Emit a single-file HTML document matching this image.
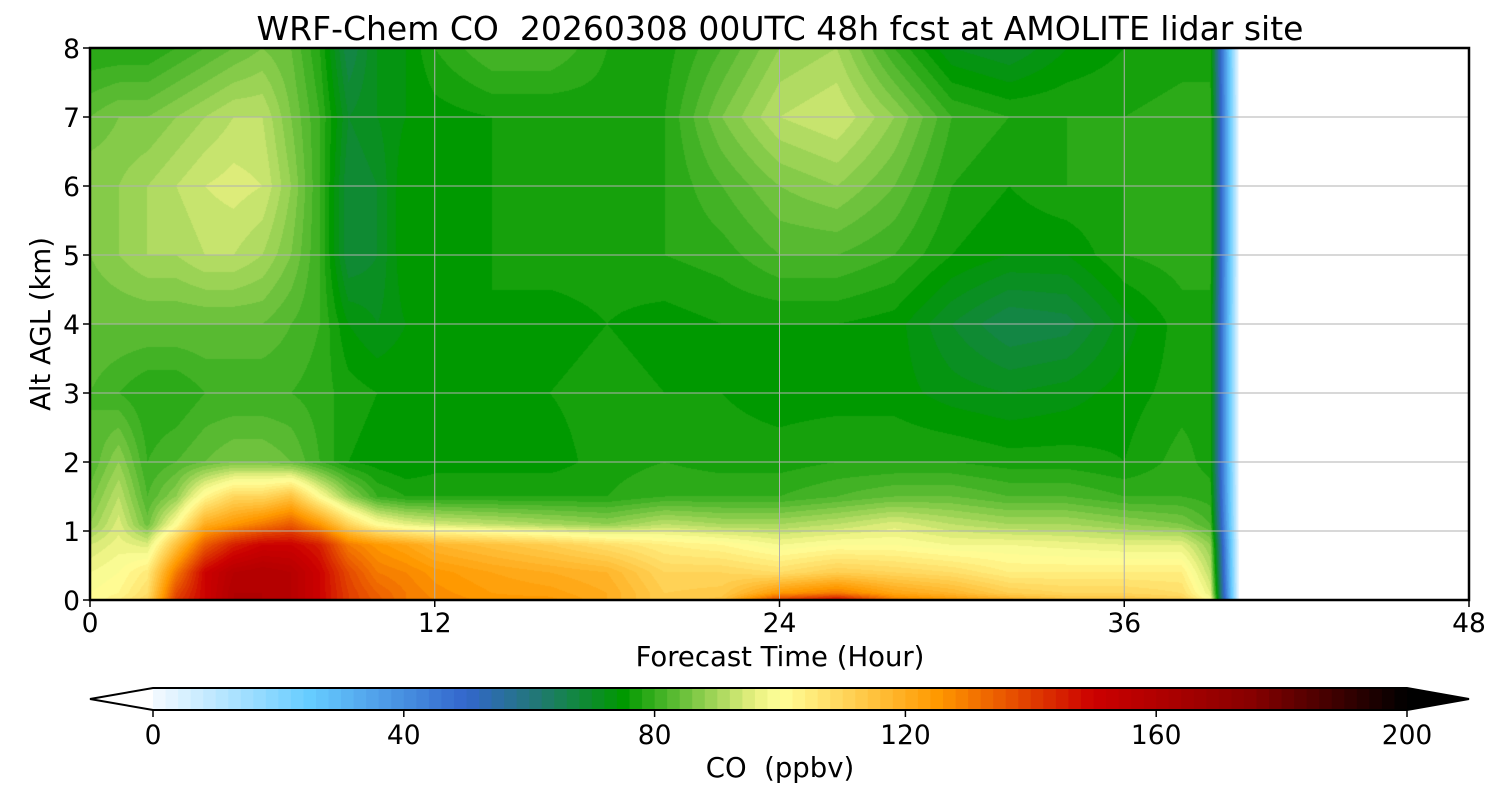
<!DOCTYPE html>
<html><head><meta charset="utf-8">
<style>
body{margin:0;background:#fff;width:1500px;height:800px;overflow:hidden;font-family:"DejaVu Sans","Liberation Sans",sans-serif}
#wrap{position:relative;width:1500px;height:800px}
canvas{position:absolute;left:90px;top:48px}
svg{position:absolute;left:0;top:0}
text{white-space:pre}
</style></head><body>
<div id="wrap">
<canvas id="cv" width="1379" height="552"></canvas>
<svg id="sv" width="1500" height="800"></svg>
</div>
<script>
const times=[0,1,2,3,4,5,6,7,8,9,10,11,12,14,16,18,20,22,24,26,28,30,32,34,36,38,39,40];
const alts=[0,0.1,0.4,0.8,1.1,1.5,2,3,4,5,6,7,8];
// each row: CO values (ppbv) at alts for one time
const coValues=[
[100,100,98,94,88,85,82,82,84,86,88,84,78],
[104,102,100,97,95,92,88,80,84,88,88,86,78],
[110,108,105,95,85,82,80,78,84,90,90,86,78],
[140,138,130,115,100,88,82,78,84,90,92,88,80],
[150,150,150,135,120,102,84,80,84,92,94,90,82],
[160,160,158,145,125,110,86,80,84,92,95,92,84],
[160,160,160,150,130,110,86,80,84,90,94,92,86],
[158,158,158,150,135,115,84,80,82,86,88,86,84],
[150,150,150,145,125,100,80,79,80,80,80,80,78],
[140,140,138,130,110,88,76,77,74,68,68,70,66],
[135,134,130,125,100,80,75,76,72,70,70,72,72],
[130,130,128,122,96,78,74,76,74,76,76,74,74],
[128,127,125,118,94,78,75,76,76,75,76,75,78],
[125,124,122,115,92,78,75,75,76,76,76,76,82],
[125,123,120,112,90,78,75,76,75,77,76,76,82],
[120,120,118,108,88,78,77,77,76,77,78,77,78],
[112,112,110,104,92,80,78,76,75,78,78,78,77],
[115,113,110,102,90,80,77,76,76,79,82,86,82],
[140,125,108,98,90,80,77,75,76,82,86,92,88],
[150,130,112,100,92,82,78,75,76,82,88,94,90],
[130,122,110,100,95,84,78,75,75,80,84,88,80],
[125,118,108,98,92,84,78,73,70,76,78,80,72],
[120,112,104,98,90,82,77,72,66,74,76,78,70],
[115,110,104,97,90,82,77,73,67,74,78,78,74],
[115,110,104,96,88,80,76,75,73,78,78,78,76],
[112,108,104,96,86,80,79,77,77,79,79,79,77],
[100,96,92,88,82,79,77,77,77,79,79,79,77],
[0,0,0,0,0,0,0,0,0,0,0,0,0]];
const cbTicks=[0,40,80,120,160,200];
const xTicks=[0,12,24,36,48];
const yTicks=[0,1,2,3,4,5,6,7,8];

const anchors=[[0,[245,250,255]],[25,[102,204,255]],[50,[51,102,204]],[61,[34,119,119]],[75,[0,153,0]],[96,[232,240,128]],[100,[255,255,153]],[125,[255,153,0]],[150,[204,0,0]],[175,[136,0,0]],[200,[0,0,0]]];
function cmap(v){
  v=Math.max(0,Math.min(200,v));
  for(let i=0;i<anchors.length-1;i++){const a=anchors[i],b=anchors[i+1];
    if(v<=b[0]){const f=(v-a[0])/(b[0]-a[0]);return a[1].map((c,k)=>Math.round(c+(b[1][k]-c)*f));}}
  return [0,0,0];
}
function lvl(v){return Math.floor(v/2)*2+1;}
const X0=90,X1=1469,Y0=600,Y1=48;
const xs=t=>X0+(t/48)*(X1-X0), ys=a=>Y0-(a/8)*(Y0-Y1);
const cv=document.getElementById('cv'),ctx=cv.getContext('2d');
const W=cv.width,H=cv.height,img=ctx.createImageData(W,H);
const tMax=times[times.length-1];
for(let px=0;px<W;px++){
  const t=(px+0.5)/W*48; if(t>tMax) {continue;}
  let i=0; while(i<times.length-2&&t>times[i+1]) i++;
  const ft=(t-times[i])/(times[i+1]-times[i]);
  for(let py=0;py<H;py++){
    const a=(H-py-0.5)/H*8;
    let j=0; while(j<alts.length-2&&a>alts[j+1]) j++;
    const fa=(a-alts[j])/(alts[j+1]-alts[j]);
    const v0=coValues[i][j]*(1-ft)+coValues[i+1][j]*ft;
    const v1=coValues[i][j+1]*(1-ft)+coValues[i+1][j+1]*ft;
    const v=v0*(1-fa)+v1*fa;
    if(v<1) continue;
    const c=cmap(lvl(v)); const o=(py*W+px)*4;
    img.data[o]=c[0];img.data[o+1]=c[1];img.data[o+2]=c[2];img.data[o+3]=255;
  }
}
ctx.putImageData(img,0,0);
const NS='http://www.w3.org/2000/svg',sv=document.getElementById('sv');
function mk(tag,at,txt){const e=document.createElementNS(NS,tag);for(const k in at)e.setAttribute(k,at[k]);if(txt!==undefined)e.textContent=txt;sv.appendChild(e);return e;}
xTicks.forEach(t=>{
  const l=mk('line',{x1:xs(t),x2:xs(t),y1:Y1,y2:Y0,stroke:'#b0b0b0','stroke-width':1});
  
  
  const tk=mk('line',{x1:xs(t),x2:xs(t),y1:Y0,y2:Y0+7,stroke:'#000','stroke-width':1.5});
  
  
  const tx=mk('text',{x:xs(t),y:632,'font-size':26.5,'text-anchor':'middle'},String(t));
  
  
});
yTicks.forEach(a=>{
  const l=mk('line',{x1:X0,x2:X1,y1:ys(a),y2:ys(a),stroke:'#b0b0b0','stroke-width':1});
  
  
  const tk=mk('line',{x1:X0-7,x2:X0,y1:ys(a),y2:ys(a),stroke:'#000','stroke-width':1.5});
  
  
  const tx=mk('text',{x:X0-10,y:ys(a)+10,'font-size':26.5,'text-anchor':'end'},String(a));
  
  
});
const fr=mk('rect',{x:X0,y:Y1,width:X1-X0,height:Y0-Y1,fill:'none',stroke:'#000','stroke-width':2.5});


const ti=mk('text',{x:780,y:40,'font-size':33,'text-anchor':'middle','xml:space':'preserve'},'WRF-Chem CO  20260308 00UTC 48h fcst at AMOLITE lidar site');


const xl=mk('text',{x:780,y:666,'font-size':27.5,'text-anchor':'middle'},'Forecast Time (Hour)');


const yl=mk('text',{x:50,y:324,'font-size':27.5,'text-anchor':'middle',transform:'rotate(-90 50 324)'},'Alt AGL (km)');


const C0=153,C1=1407,CT=688,CB=710;
const cs=v=>C0+(v/200)*(C1-C0);
for(let v=0;v<200;v+=2){
  const c=cmap(v+1);
  const r=mk('rect',{x:cs(v),y:CT,width:cs(v+2)-cs(v)+0.5,height:CB-CT,fill:`rgb(${c})`});
  
  
}
const lt=mk('polygon',{points:`${C0},${CT} 90,${(CT+CB)/2} ${C0},${CB}`,fill:'#fff',stroke:'none'});


const rt=mk('polygon',{points:`${C1},${CT} 1469,${(CT+CB)/2} ${C1},${CB}`,fill:'#000'});


const ol=mk('polygon',{points:`${C0},${CT} ${C1},${CT} 1469,${(CT+CB)/2} ${C1},${CB} ${C0},${CB} 90,${(CT+CB)/2}`,fill:'none',stroke:'#000','stroke-width':2});


cbTicks.forEach(v=>{
  const tk=mk('line',{x1:cs(v),x2:cs(v),y1:CB,y2:CB+7,stroke:'#000','stroke-width':1.5});
  
  
  const tx=mk('text',{x:cs(v),y:744,'font-size':26.5,'text-anchor':'middle'},String(v));
  
  
});
const cl=mk('text',{x:780,y:777,'font-size':27.5,'text-anchor':'middle','xml:space':'preserve'},'CO  (ppbv)');


</script>
</body></html>
